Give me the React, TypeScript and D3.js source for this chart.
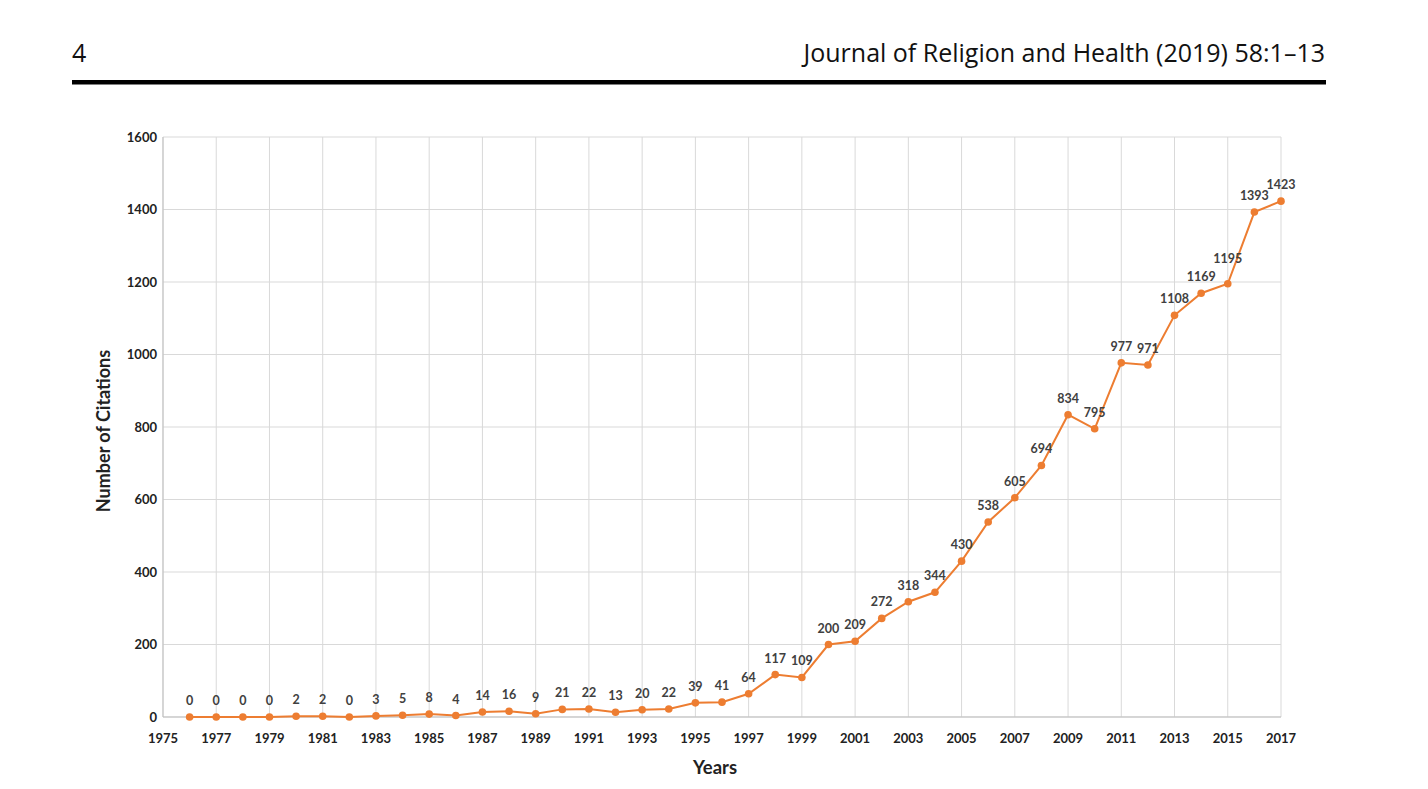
import React from "react";
import * as d3 from "d3";

const years: number[] = [1976,1977,1978,1979,1980,1981,1982,1983,1984,1985,1986,1987,1988,1989,1990,1991,1992,1993,1994,1995,1996,1997,1998,1999,2000,2001,2002,2003,2004,2005,2006,2007,2008,2009,2010,2011,2012,2013,2014,2015,2016,2017];
const citations: number[] = [0,0,0,0,2,2,0,3,5,8,4,14,16,9,21,22,13,20,22,39,41,64,117,109,200,209,272,318,344,430,538,605,694,834,795,977,971,1108,1169,1195,1393,1423];
const xTicks: number[] = [1975,1977,1979,1981,1983,1985,1987,1989,1991,1993,1995,1997,1999,2001,2003,2005,2007,2009,2011,2013,2015,2017];
const yTicks: number[] = [0,200,400,600,800,1000,1200,1400,1600];

const W = 1428, H = 789;
const L = 163, R = 1281, T = 137, B = 717;
// extra vertical lift for crowded labels (by year)
const labelLift: Record<number, number> = { 2015: 9 };

export default function App() {
  const x = d3.scaleLinear().domain([1975, 2017]).range([L, R]);
  const y = d3.scaleLinear().domain([0, 1600]).range([B, T]);
  const line = d3.line<number>().x((_, i) => x(years[i])).y((d) => y(d));
  const tickFont = "Lato, 'Open Sans', sans-serif";
  return (
    <div style={{ position: "absolute", left: 0, top: 0 }}>
      <svg width={W} height={H} style={{ display: "block", background: "#fff" }}>
        <text x={72} y={62} fontFamily="'Open Sans', 'Noto Sans', sans-serif" fontSize={25} fill="#111">4</text>
        <text x={1325} y={62} textAnchor="end" fontFamily="'Open Sans', 'Noto Sans', sans-serif" fontSize={25} fill="#111">Journal of Religion and Health (2019) 58:1–13</text>
        <rect x={72} y={80} width={1254} height={4.5} fill="#000" />

        {yTicks.map((t) => (
          <line key={"h" + t} x1={L} x2={R} y1={y(t)} y2={y(t)} stroke="#d9d9d9" strokeWidth={1} />
        ))}
        {xTicks.map((t) => (
          <line key={"v" + t} x1={x(t)} x2={x(t)} y1={T} y2={B} stroke="#d9d9d9" strokeWidth={1} />
        ))}
        <line x1={L} x2={L} y1={T} y2={B} stroke="#bfbfbf" strokeWidth={1} />
        <line x1={L} x2={R} y1={B} y2={B} stroke="#bfbfbf" strokeWidth={1} />

        {yTicks.map((t) => (
          <text key={"yl" + t} x={L - 6} y={y(t) + 4.5} textAnchor="end" fontFamily={tickFont} fontWeight={700} fontSize={13} fill="#222">{t}</text>
        ))}
        {xTicks.map((t) => (
          <text key={"xl" + t} x={x(t)} y={B + 26} textAnchor="middle" fontFamily={tickFont} fontWeight={700} fontSize={13} fill="#222">{t}</text>
        ))}

        <path d={line(citations) || ""} fill="none" stroke="#ED7D31" strokeWidth={2} />
        {citations.map((v, i) => (
          <circle key={"c" + i} cx={x(years[i])} cy={y(v)} r={3.8} fill="#ED7D31" />
        ))}
        {citations.map((v, i) => (
          <text key={"t" + i} x={x(years[i])} y={y(v) - 12 - (labelLift[years[i]] || 0)} textAnchor="middle" fontFamily={tickFont} fontWeight={700} fontSize={12.5} fill="#404040">{v}</text>
        ))}

        <text transform={`translate(110, ${(T + B) / 2 + 4}) rotate(-90)`} textAnchor="middle" fontFamily={tickFont} fontWeight={700} fontSize={18} fill="#222">Number of Citations</text>
        <text x={715} y={774} textAnchor="middle" fontFamily={tickFont} fontWeight={700} fontSize={18.5} fill="#222">Years</text>
      </svg>
    </div>
  );
}
